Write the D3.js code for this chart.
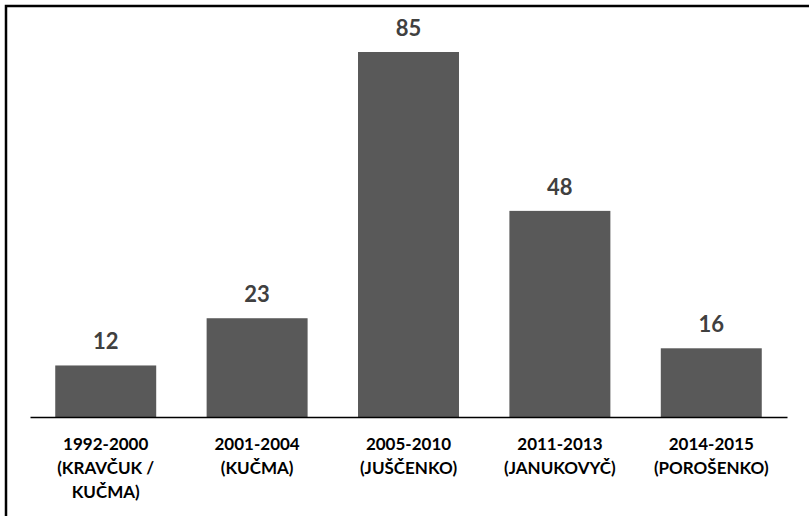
<!DOCTYPE html>
<html>
<head>
<meta charset="utf-8">
<script src="https://cdn.jsdelivr.net/npm/d3@7"></script>
<style>
  body { margin: 0; background: #fff; }
  svg { display: block; }
</style>
</head>
<body>
<svg id="chart"></svg>
<script>
var periods = ['1992-2000', '2001-2004', '2005-2010', '2011-2013', '2014-2015']
var presidents = [['(KRAVČUK /', 'KUČMA)'], ['(KUČMA)'], ['(JUŠČENKO)'], ['(JANUKOVYČ)'], ['(POROŠENKO)']]
var counts = [12, 23, 85, 48, 16]

var width = 809, height = 516
var barColor = '#595959', labelColor = '#404040'
var font = 'Lato, "Open Sans", sans-serif'

var svg = d3.select('#chart')
  .attr('width', width)
  .attr('height', height)

// frame: only top and left edges show
svg.append('path')
  .attr('d', 'M6,' + height + 'V6H' + width)
  .attr('fill', 'none')
  .attr('stroke', '#000')
  .attr('stroke-width', 2.5)

var x = d3.scaleBand()
  .domain(periods)
  .range([30, 787])
  .paddingInner(0.333)
  .paddingOuter(0.1667)

var y = d3.scaleLinear()
  .domain([0, 85])
  .range([417, 52])

var data = periods.map(function (p, i) {
  return { period: p, president: presidents[i], count: counts[i] }
})

svg.selectAll('.bar')
  .data(data)
  .enter().append('rect')
  .attr('class', 'bar')
  .attr('x', function (d) { return x(d.period) })
  .attr('width', x.bandwidth())
  .attr('y', function (d) { return y(d.count) })
  .attr('height', function (d) { return y(0) - y(d.count) })
  .attr('fill', barColor)

// value labels
svg.selectAll('.value')
  .data(data)
  .enter().append('text')
  .attr('class', 'value')
  .attr('x', function (d) { return x(d.period) + x.bandwidth() / 2 })
  .attr('y', function (d) { return y(d.count) - 16 })
  .attr('text-anchor', 'middle')
  .attr('font-family', font)
  .attr('font-weight', 'bold')
  .attr('font-size', 22)
  .attr('fill', labelColor)
  .text(function (d) { return d.count })

// x axis
var axis = svg.append('g')
  .attr('transform', 'translate(0,' + y(0) + ')')
  .call(d3.axisBottom(x).tickSize(0).tickFormat(''))
axis.select('.domain').attr('stroke', '#000').attr('stroke-width', 1.5)

var cats = svg.selectAll('.cat')
  .data(data)
  .enter().append('text')
  .attr('class', 'cat')
  .attr('text-anchor', 'middle')
  .attr('font-family', font)
  .attr('font-weight', 'bold')
  .attr('font-size', 17)
  .attr('fill', '#000')

cats.each(function (d) {
  var cx = x(d.period) + x.bandwidth() / 2
  var lines = [d.period].concat(d.president)
  d3.select(this).selectAll('tspan')
    .data(lines)
    .enter().append('tspan')
    .attr('x', cx)
    .attr('y', function (l, i) { return 450 + i * 24 })
    .text(function (l) { return l })
})
</script>
</body>
</html>
